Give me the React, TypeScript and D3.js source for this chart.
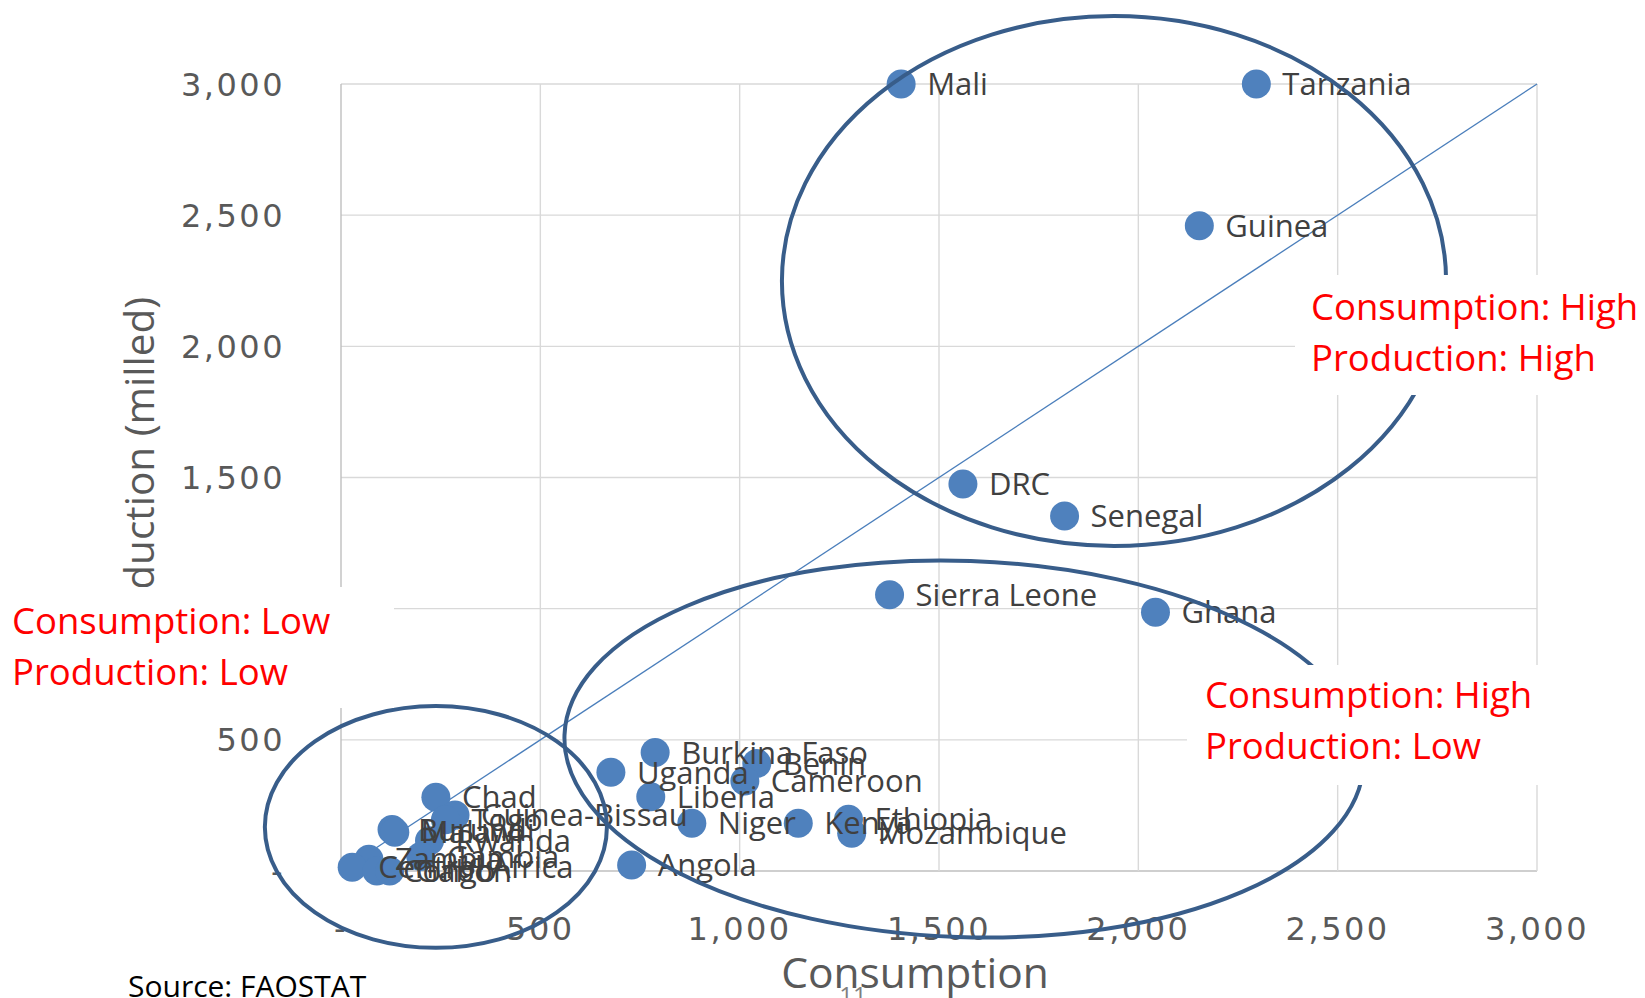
import React from 'react';
import * as d3 from 'd3';

// rice, thousand tonnes
const countries = [
  'Mali', 'Tanzania', 'Guinea', 'DRC', 'Senegal', 'Sierra Leone', 'Ghana',
  'Burkina Faso', 'Benin', 'Uganda', 'Cameroon', 'Liberia', 'Niger', 'Kenya',
  'Ethiopia', 'Mozambique', 'Angola',
  'Chad', 'Guinea-Bissau', 'Togo', 'Burundi', 'Malawi', 'Rwanda', 'Gambia',
  'Zambia', 'Central Africa', 'Congo', 'Gabon',
];
const consumption = [
  1405, 2296, 2153, 1560, 1815, 1376, 2043,
  788, 1043, 677, 1013, 777, 880, 1147,
  1273, 1281, 729,
  238, 286, 262, 128, 135, 222, 200,
  70, 28, 90, 122,
];
const production = [
  3000, 3000, 2460, 1475, 1353, 1053, 986,
  452, 410, 376, 343, 283, 182, 182,
  197, 144, 23,
  281, 213, 195, 158, 148, 115, 55,
  45, 14, 0, 0,
];

const xTicks = [0, 500, 1000, 1500, 2000, 2500, 3000];
const yTicks = [0, 500, 1000, 1500, 2000, 2500, 3000];

// groups circled on the chart: centre and radii in data units
const groupNames = ['high-high', 'high-low', 'low-low'];
const groupCx = [1939, 1563, 238];
const groupCy = [2249, 465, 168];
const groupRx = [833, 1003, 429];
const groupRy = [1010, 717, 461];
const groupTilt = [0, 2, 0];

const noteLines = [
  ['Consumption: High', 'Production: High'],
  ['Consumption: High', 'Production: Low'],
  ['Consumption: Low', 'Production: Low'],
];

const W = 1645;
const H = 998;

export default function App() {
  const x = d3.scaleLinear().domain([0, 3000]).range([341, 1537]);
  const y = d3.scaleLinear().domain([0, 3000]).range([871, 84]);
  const fmt = (v: number) => (v === 0 ? '-' : d3.format(',')(v));

  const points = countries.map((name, i) => ({
    name,
    cx: x(consumption[i]),
    cy: y(production[i]),
  }));

  // white note boxes, in page pixels
  const notes = [
    { bx: 1295, by: 275, bw: 350, bh: 120, tx: 1311, ty: 320 },
    { bx: 1187, by: 665, bw: 380, bh: 120, tx: 1205, ty: 708 },
    { bx: 0, by: 587, bw: 394, bh: 121, tx: 12, ty: 634 },
  ];

  const tickFont = { fontFamily: 'DejaVu Sans', fontSize: 32, fill: '#595959', letterSpacing: 2.5 };

  return (
    <svg
      width={W}
      height={H}
      style={{ position: 'absolute', left: 0, top: 0, background: '#fff' }}
    >
      {/* grid */}
      <g>
        {yTicks.map((t) => (
          <line key={'gy' + t} x1={x(0)} x2={x(3000)} y1={y(t)} y2={y(t)}
            stroke={t === 0 ? '#BFBFBF' : '#D9D9D9'} strokeWidth={1.4} />
        ))}
        {xTicks.map((t) => (
          <line key={'gx' + t} x1={x(t)} x2={x(t)} y1={y(0)} y2={y(3000)}
            stroke={t === 0 ? '#BFBFBF' : '#D9D9D9'} strokeWidth={1.4} />
        ))}
      </g>

      {/* tick labels */}
      {yTicks.map((t) => (
        <text key={'ly' + t} x={285} y={y(t)} dy="0.36em" textAnchor="end" {...tickFont}>
          {fmt(t)}
        </text>
      ))}
      {xTicks.map((t) => (
        <text key={'lx' + t} x={x(t)} y={940} textAnchor="middle" {...tickFont}>
          {fmt(t)}
        </text>
      ))}

      {/* axis titles */}
      <text x={915} y={988} textAnchor="middle" fontFamily="Open Sans" fontSize={42.5} fill="#595959">
        Consumption
      </text>
      <text transform="translate(154,655) rotate(-90)" textAnchor="start"
        fontFamily="Open Sans" fontSize={40.5} fill="#595959">
        Production (milled)
      </text>

      {/* 1:1 line */}
      <line x1={x(0)} y1={y(0)} x2={x(3000)} y2={y(3000)} stroke="#4A7EBB" strokeWidth={1.3} />

      {/* markers */}
      {points.map((p) => (
        <circle key={'c' + p.name} cx={p.cx} cy={p.cy} r={14.5} fill="#4F81BD" />
      ))}
      {/* data labels */}
      {points.map((p) => (
        <text key={'t' + p.name} x={p.cx + 26} y={p.cy} dy="0.36em"
          fontFamily="Open Sans" fontSize={31} fill="#404040">
          {p.name}
        </text>
      ))}

      {/* group ellipses */}
      {groupNames.map((g, i) => {
        const cx = x(groupCx[i]);
        const cy = y(groupCy[i]);
        const rx = x(groupCx[i] + groupRx[i]) - cx;
        const ry = y(groupCy[i] - groupRy[i]) - cy;
        return (
          <ellipse key={g} cx={cx} cy={cy} rx={rx} ry={ry}
            transform={`rotate(${groupTilt[i]},${cx},${cy})`}
            fill="none" stroke="#385D8A" strokeWidth={4} />
        );
      })}

      {/* notes */}
      {notes.map((n, i) => (
        <g key={'n' + i}>
          <rect x={n.bx} y={n.by} width={n.bw} height={n.bh} fill="#fff" />
          {noteLines[i].map((line, j) => (
            <text key={j} x={n.tx} y={n.ty + j * 51} fontFamily="Open Sans" fontSize={36.5} fill="#FF0000">
              {line}
            </text>
          ))}
        </g>
      ))}

      <text x={128} y={997} fontFamily="Open Sans" fontSize={30} fill="#000">
        Source: FAOSTAT
      </text>
      <text x={853} y={1004} textAnchor="middle" fontFamily="Open Sans" fontSize={24} fill="#7F7F7F">
        11
      </text>
    </svg>
  );
}
